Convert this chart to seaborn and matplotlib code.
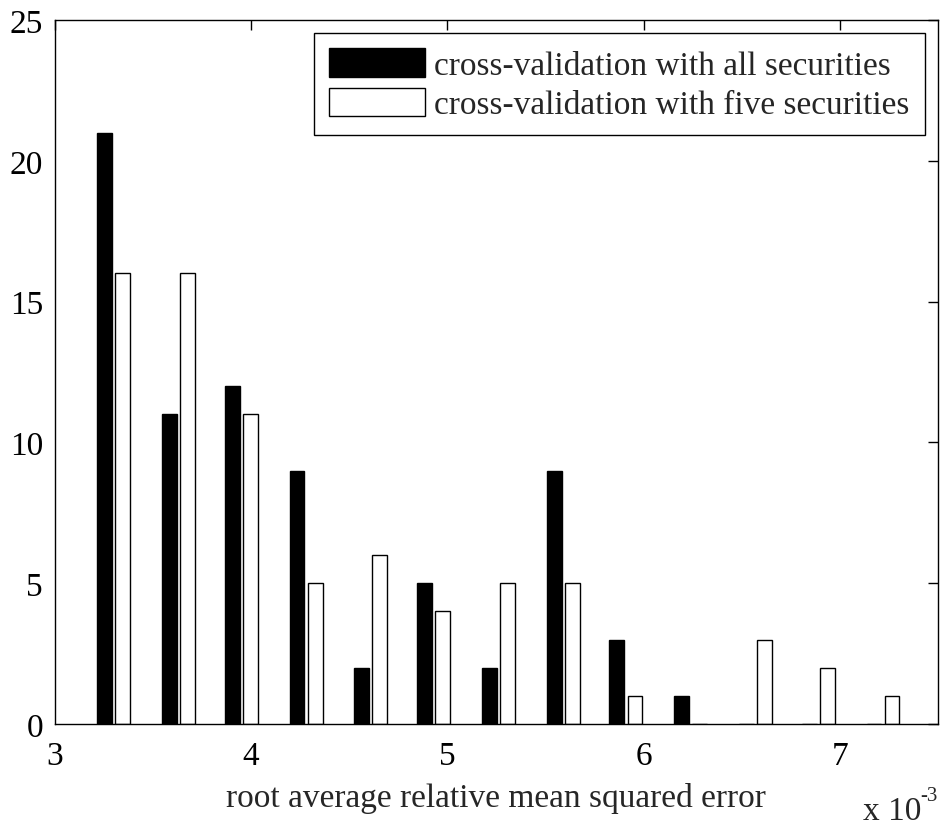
import pandas as pd
import matplotlib
import seaborn as sns
import matplotlib.pyplot as plt

matplotlib.use('Agg')

# bin centres (units of 1e-3)
bin_centers = [3.30, 3.63, 3.95, 4.28, 4.61, 4.93, 5.26, 5.59, 5.91, 6.24, 6.57, 6.89, 7.22]
all_secs = [21, 11, 12, 9, 2, 5, 2, 9, 3, 1, 0, 0, 0]
five_secs = [16, 16, 11, 5, 6, 4, 5, 5, 1, 0, 3, 2, 1]
series_names = ['cross-validation with all securities', 'cross-validation with five securities']


def build_frame():
    rows = []
    for c, a, f in zip(bin_centers, all_secs, five_secs):
        rows.append({'bin': c, 'count': a, 'series': series_names[0]})
        rows.append({'bin': c, 'count': f, 'series': series_names[1]})
    return pd.DataFrame(rows)


def make_plot(df, output):
    sns.set_style('white')
    plt.rcParams['font.family'] = ['Liberation Serif', 'DejaVu Serif']
    plt.rcParams['font.size'] = 24

    fig = plt.figure(figsize=[9.47, 8.28], dpi=100)
    ax = fig.add_axes([0.058, 0.1244, 0.9324, 0.8502])
    sns.barplot(data=df, x='bin', y='count', hue='series', hue_order=series_names,
                native_scale=True, width=0.575, gap=0.18,
                palette={series_names[0]: 'black', series_names[1]: 'white'},
                edgecolor='black', linewidth=1, ax=ax)

    ax.set_xlim(3, 7.5)
    ax.set_ylim(0, 25)
    ax.set_xticks([3, 4, 5, 6, 7])
    ax.set_xticklabels(['3', '4', '5', '6', '7'])
    ax.set_yticks([0, 5, 10, 15, 20, 25])
    ax.tick_params(direction='in', length=7, width=1, top=True, right=True,
                   labelsize=24, colors='black')
    ax.tick_params(axis='x', pad=12)
    ax.tick_params(axis='y', pad=8.5)
    for s in ax.spines.values():
        s.set_color('black')
        s.set_linewidth(1)
    ax.set_xlabel('root average relative mean squared error', fontsize=24, labelpad=8)
    ax.set_ylabel('')

    handles, labels = ax.get_legend_handles_labels()
    leg = ax.legend(handles, labels, loc='upper right', fontsize=24, frameon=True,
                    fancybox=False, edgecolor='black', framealpha=1,
                    handlelength=2.9, handleheight=0.93, handletextpad=0.27,
                    labelspacing=0.2, borderpad=0.45, borderaxespad=0.4)
    leg.get_frame().set_linewidth(1)

    # MATLAB-style exponent label
    fig.text(0.911, 0.0097, 'x 10', fontsize=24, ha='left', va='baseline')
    fig.text(0.972, 0.0326, '-3', fontsize=15, ha='left', va='baseline')
    fig.savefig(output, dpi=100)


make_plot(build_frame(), 'out.png')
